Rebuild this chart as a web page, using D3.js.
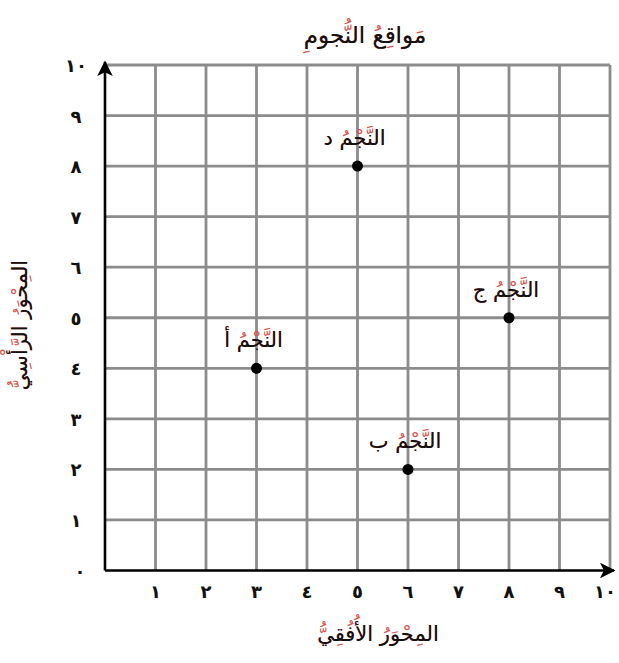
<!DOCTYPE html>
<html>
<head>
<meta charset="utf-8">
<script src="https://cdn.jsdelivr.net/npm/d3@7"></script>
<style>
  html, body { margin: 0; padding: 0; background: #fff; }
  svg { display: block; }
  text { font-family: "DejaVu Sans", sans-serif; }
</style>
</head>
<body>
<svg id="chart" width="619" height="663"></svg>
<script>
// Star positions on a 0–10 grid
const starNames = ["النَّجْمُ أ", "النَّجْمُ ب", "النَّجْمُ ج", "النَّجْمُ د"];
const starX = [3, 6, 8, 5];
const starY = [4, 2, 5, 8];

// Tick values and their Arabic-Indic labels
const tickValues = [0, 1, 2, 3, 4, 5, 6, 7, 8, 9, 10];
const tickLabels = ["٠", "١", "٢", "٣", "٤", "٥", "٦", "٧", "٨", "٩", "١٠"];

const titleText = "مَواقِعُ النُّجومِ";
const xTitle = "المِحْوَرُ الأُفُقِيُّ";
const yTitle = "المِحْوَرُ الرَّأْسِيُّ";

const svg = d3.select("#chart");
const x = d3.scaleLinear().domain([0, 10]).range([105, 610]);
const y = d3.scaleLinear().domain([0, 10]).range([570.5, 65]);

const gridColor = "#8c8c8c";
const markColor = "#d9534f";
const stripMarks = s => s.replace(/[\u064B-\u0652]/g, "");

// Text with red harakat: full string in red underneath, bare letters in black on top
function vocalised(g, str, attrs) {
  const red = g.append("text").text(str).attr("fill", markColor);
  const black = g.append("text").text(stripMarks(str)).attr("fill", "#111");
  for (const [k, v] of Object.entries(attrs)) { red.attr(k, v); black.attr(k, v); }
}

// Grid
const grid = svg.append("g");
grid.selectAll("line.v").data(tickValues.slice(1)).join("line")
  .attr("x1", d => x(d)).attr("x2", d => x(d))
  .attr("y1", y(0)).attr("y2", y(10))
  .attr("stroke", gridColor).attr("stroke-width", 2.8);
grid.selectAll("line.h").data(tickValues.slice(1)).join("line")
  .attr("y1", d => y(d)).attr("y2", d => y(d))
  .attr("x1", x(0)).attr("x2", x(10))
  .attr("stroke", gridColor).attr("stroke-width", 2.8);

// Axes with arrowheads
const defs = svg.append("defs");
defs.append("marker").attr("id", "arrow")
  .attr("viewBox", "0 0 10 10").attr("refX", 9).attr("refY", 5)
  .attr("markerWidth", 6).attr("markerHeight", 6)
  .attr("markerUnits", "strokeWidth").attr("orient", "auto")
  .append("path").attr("d", "M0,0 L10,5 L0,10 L2.5,5 Z").attr("fill", "#000");

svg.append("line")
  .attr("x1", x(0)).attr("y1", y(0)).attr("x2", x(10) + 4).attr("y2", y(0))
  .attr("stroke", "#000").attr("stroke-width", 2.6).attr("marker-end", "url(#arrow)");
svg.append("line")
  .attr("x1", x(0)).attr("y1", y(0)).attr("x2", x(0)).attr("y2", y(10) - 3)
  .attr("stroke", "#000").attr("stroke-width", 2.6).attr("marker-end", "url(#arrow)");

// Tick labels (the last one on the x axis is pulled in to stay on the page)
svg.append("g").selectAll("text").data(tickValues.slice(1)).join("text")
  .attr("x", d => d === 10 ? x(d) - 5 : x(d)).attr("y", y(0) + 27)
  .attr("text-anchor", "middle").attr("font-size", 18).attr("font-weight", "bold")
  .attr("fill", "#111").text(d => tickLabels[d]);
svg.append("g").selectAll("text").data(tickValues).join("text")
  .attr("x", d => d === 0 ? 80 : 76).attr("y", d => y(d) + 7)
  .attr("text-anchor", "middle").attr("font-size", 18).attr("font-weight", "bold")
  .attr("fill", "#111").text(d => tickLabels[d]);

// Stars
const stars = starNames.map((n, i) => ({ name: n, x: starX[i], y: starY[i] }));
svg.append("g").selectAll("circle").data(stars).join("circle")
  .attr("cx", d => x(d.x)).attr("cy", d => y(d.y)).attr("r", 5.5).attr("fill", "#000");
const labels = svg.append("g");
stars.forEach(d => {
  vocalised(labels, d.name, {
    x: x(d.x) - 3, y: y(d.y) - 21, "text-anchor": "middle", "font-size": 21
  });
});

// Titles
vocalised(svg.append("g"), titleText, {
  x: 365, y: 43, "text-anchor": "middle", "font-size": 23
});
vocalised(svg.append("g"), xTitle, {
  x: 378, y: 641, "text-anchor": "middle", "font-size": 21
});
vocalised(svg.append("g").attr("transform", "translate(27,325) rotate(-90)"), yTitle, {
  x: 0, y: 0, "text-anchor": "middle", "font-size": 21
});
</script>
</body>
</html>
